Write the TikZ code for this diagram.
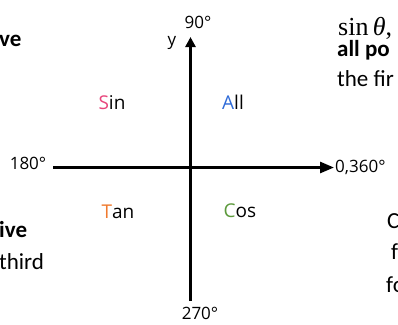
\documentclass[tikz,border=0pt]{standalone}
\usepackage{fontspec}
\setmainfont{Carlito}
\newfontfamily\hand{Open Sans}
\newfontfamily\serif{Liberation Serif}
\usetikzlibrary{arrows.meta}
\definecolor{sinpink}{HTML}{E8467C}
\definecolor{allblue}{HTML}{2F6BD8}
\definecolor{tanorange}{HTML}{F07A2E}
\definecolor{cosgreen}{HTML}{5C9A3C}
\tikzset{
  hw/.style={font=\hand\fontsize{17}{17}\selectfont, inner sep=0pt},
  quad/.style={font=\hand\fontsize{19}{19}\selectfont, inner sep=0pt},
  doc/.style={font=\fontsize{23}{23}\selectfont, inner sep=0pt},
}
\begin{document}
\begin{tikzpicture}[x=1pt,y=-1pt]
\useasboundingbox (0,0) rectangle (398,324);
\clip (0,0) rectangle (398,324);
\fill[white] (0,0) rectangle (398,324);
% axes
\coordinate (yb) at (190.5,301);
\coordinate (yt) at (190.5,37);
\coordinate (xl) at (53,167.5);
\coordinate (xr) at (334,167.5);
\draw[line width=2.6pt, -{Triangle[length=10pt,width=10pt]}] (yb) -- (yt);
\draw[line width=2.6pt, -{Triangle[length=14pt,width=11pt]}] (xl) -- (xr);
% axis labels
\node[hw] (n90) at (198,22) {90°};
\node[hw] (ny) at (172,43) {y};
\node[hw] (n180) at (28,163) {180°};
\node[hw, anchor=west] (n0) at (335,167) {0,360°};
\node[hw] (n270) at (200,313) {270°};
% quadrant labels
\node[quad] (sin) at (112,103) {\textcolor{sinpink}{S}in};
\node[quad] (all) at (233,102) {\textcolor{allblue}{A}ll};
\node[quad] (tan) at (118,212) {\textcolor{tanorange}{T}an};
\node[quad] (cos) at (240,211) {\textcolor{cosgreen}{C}os};
% cut-off document text
\node[doc, anchor=base west] (t1) at (-1,46) {\bfseries ve};
\node[doc, anchor=base west] (t2) at (-1,237) {\bfseries ive};
\node[doc, anchor=base west] (t3) at (-1,269) {third};
\node[doc, anchor=base west, font=\serif\fontsize{26}{26}\selectfont] (t4) at (338,35) {sin\,\textit{θ},};
\node[doc, anchor=base west] (t5) at (337,56) {\bfseries all po};
\node[doc, anchor=base west] (t6) at (337,86) {the fir};
\node[doc, anchor=base west] (t7) at (387,228) {C};
\node[doc, anchor=base west] (t8) at (391,259) {f};
\node[doc, anchor=base west] (t9) at (386,292) {fo};
\end{tikzpicture}
\end{document}
